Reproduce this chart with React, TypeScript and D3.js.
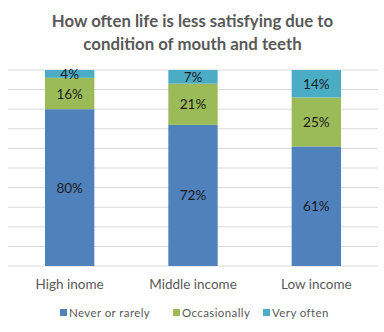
import React from "react";
import * as d3 from "d3";

const categories = ["High inome", "Middle income", "Low income"];
const seriesNames = ["Never or rarely", "Occasionally", "Very often"];
const neverValues = [80, 72, 61];
const occasionallyValues = [16, 21, 25];
const veryOftenValues = [4, 7, 14];
const colors = ["#4F81BD", "#9BBB59", "#4BACC6"];
const titleLines = ["How often life is less satisfying due to", "condition of mouth and teeth"];

const W = 384, H = 332;
const left = 8, right = 378, top = 70, bottom = 266;
const FONT = "Lato, 'Open Sans', sans-serif";

export default function App() {
  const x = d3.scaleBand<string>().domain(categories).range([left, right]).paddingInner(0.6).paddingOuter(0.3);
  const y = d3.scaleLinear().domain([0, 100]).range([bottom, top]);
  const rows = categories.map((c, i) => ({
    cat: c,
    never: neverValues[i],
    occ: occasionallyValues[i],
    very: veryOftenValues[i],
  }));
  const stack = d3.stack<any>().keys(["never", "occ", "very"]);
  const series = stack(rows);
  const ticks = d3.range(0, 101, 10);
  const legendX = [60, 173, 263];
  return (
    <div style={{ position: "absolute", left: 0, top: 0 }}>
      <svg width={W} height={H} style={{ display: "block", background: "#fff" }}>
        {titleLines.map((t, i) => (
          <text key={i} x={192.5} y={27 + i * 23} textAnchor="middle" fontFamily={FONT} fontWeight="bold" fontSize={16.8} fill="#595959">{t}</text>
        ))}
        {ticks.map((t) => (
          <line key={t} x1={left} x2={right} y1={y(t)} y2={y(t)} stroke="#D9D9D9" strokeWidth={1} />
        ))}
        {series.map((s, si) => (
          <g key={si}>
            {s.map((d, i) => {
              const x0 = x(categories[i])!;
              const y0 = y(d[1]);
              const y1 = y(d[0]);
              return (
                <g key={i}>
                  <rect x={x0} y={y0} width={x.bandwidth()} height={y1 - y0} fill={colors[si]} />
                  <text x={x0 + x.bandwidth() / 2} y={(y0 + y1) / 2 + 5} textAnchor="middle" fontFamily={FONT} fontSize={13.5} fill="#1a1a1a">{(d[1] - d[0]) + "%"}</text>
                </g>
              );
            })}
          </g>
        ))}
        {categories.map((c) => (
          <text key={c} x={x(c)! + x.bandwidth() / 2} y={289} textAnchor="middle" fontFamily={FONT} fontSize={13.5} fill="#595959">{c}</text>
        ))}
        {seriesNames.map((n, i) => (
          <g key={n}>
            <rect x={legendX[i]} y={309} width={7} height={7} fill={colors[i]} />
            <text x={legendX[i] + 9} y={316.5} fontFamily={FONT} fontSize={11.5} letterSpacing={0.4} fill="#595959">{n}</text>
          </g>
        ))}
      </svg>
    </div>
  );
}
